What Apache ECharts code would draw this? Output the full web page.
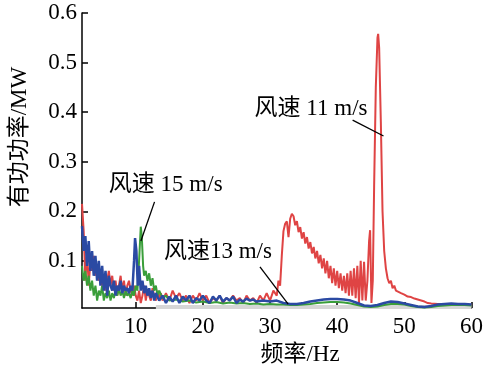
<!DOCTYPE html>
<html><head><meta charset="utf-8">
<script src="https://cdn.jsdelivr.net/npm/echarts@6/dist/echarts.min.js"></script>
<style>html,body{margin:0;padding:0;background:#fff}#c{width:486px;height:371px}</style>
</head><body><div id="c"></div>
<script>
// ---- data ----
const xTicks = [10, 20, 30, 40, 50, 60];
const yTicks = [0.1, 0.2, 0.3, 0.4, 0.5, 0.6];

// 风速 11 m/s (red)
const redF = [2.0,2.25,2.5,2.75,3.0,3.25,3.5,3.75,4.0,4.25,4.5,4.75,5.0,5.25,5.5,5.75,6.0,6.25,6.5,6.75,7.0,7.25,7.5,7.75,8.0,8.25,8.5,8.75,9.0,9.25,9.5,9.75,10.0,10.25,10.5,10.75,11.0,11.25,11.5,11.75,12.0,12.25,12.5,12.75,13.0,13.25,13.5,13.75,14,14.5,15,15.5,16,16.5,17,17.5,18,18.5,19,19.5,20,20.5,21,21.5,22,22.5,23,23.5,24,24.5,25,25.5,26,26.5,27,27.5,28,28.5,29,29.5,30,30.5,31,31.25,31.5,31.75,32,32.25,32.5,32.75,33,33.25,33.5,33.75,34,34.25,34.5,34.75,35,35.25,35.5,35.75,36,36.25,36.5,36.75,37,37.25,37.5,37.75,38,38.25,38.5,38.75,39,39.25,39.5,39.75,40,40.25,40.5,40.75,41,41.25,41.5,41.75,42,42.25,42.5,42.75,43,43.25,43.5,43.75,44,44.25,44.5,44.75,44.9,45.1,45.3,45.5,45.75,46,46.1,46.25,46.5,46.75,47,47.25,47.5,47.75,48,48.25,48.5,48.75,49,49.5,50,50.5,51,51.5,52,52.5,53,53.5,54,55,56,57,58,59,60];
const redV = [0.215,0.16,0.06,0.12,0.05,0.10,0.08,0.11,0.07,0.09,0.06,0.08,0.05,0.07,0.04,0.06,0.08,0.05,0.07,0.04,0.06,0.03,0.05,0.07,0.04,0.06,0.03,0.05,0.06,0.04,0.03,0.05,0.03,0.02,0.04,0.015,0.03,0.05,0.02,0.04,0.03,0.02,0.045,0.03,0.02,0.04,0.025,0.035,0.02,0.035,0.02,0.04,0.025,0.035,0.02,0.03,0.015,0.03,0.02,0.035,0.02,0.03,0.015,0.025,0.02,0.03,0.015,0.025,0.02,0.03,0.02,0.025,0.015,0.03,0.02,0.025,0.015,0.03,0.02,0.035,0.02,0.04,0.03,0.06,0.05,0.11,0.16,0.175,0.18,0.148,0.185,0.195,0.19,0.172,0.18,0.158,0.168,0.145,0.158,0.135,0.148,0.125,0.138,0.115,0.128,0.105,0.12,0.095,0.112,0.085,0.105,0.075,0.1,0.065,0.09,0.055,0.085,0.05,0.08,0.045,0.075,0.04,0.07,0.035,0.075,0.03,0.08,0.03,0.085,0.025,0.09,0.015,0.1,0.02,0.098,0.02,0.06,0.14,0.162,0.015,0.06,0.25,0.45,0.55,0.558,0.53,0.38,0.2,0.12,0.085,0.065,0.055,0.06,0.045,0.05,0.04,0.042,0.035,0.032,0.028,0.027,0.024,0.022,0.02,0.018,0.015,0.014,0.013,0.012,0.012,0.011,0.012,0.011];

// 风速 13 m/s (blue)
const blueF = [2.0,2.25,2.5,2.75,3.0,3.25,3.5,3.75,4.0,4.25,4.5,4.75,5.0,5.25,5.5,5.75,6.0,6.25,6.5,6.75,7.0,7.25,7.5,7.75,8.0,8.25,8.5,8.75,9.0,9.25,9.5,9.75,9.9,10.1,10.3,10.5,10.75,11.0,11.25,11.5,11.75,12.0,12.25,12.5,12.75,13,13.5,14,14.5,15,15.5,16,16.5,17,17.5,18,18.5,19,19.5,20,20.5,21,21.5,22,22.5,23,23.5,24,24.5,25,25.5,26,26.5,27,27.5,28,29,30,31,32,33,34,35,36,37,38,39,40,41,42,43,44,45,46,47,48,49,50,51,52,53,54,55,56,57,58,59,60];
const blueV = [0.17,0.12,0.15,0.09,0.14,0.08,0.12,0.07,0.11,0.06,0.10,0.05,0.09,0.04,0.08,0.03,0.07,0.05,0.04,0.06,0.03,0.05,0.04,0.06,0.035,0.05,0.04,0.045,0.035,0.05,0.04,0.1,0.146,0.12,0.05,0.09,0.04,0.06,0.035,0.05,0.03,0.045,0.025,0.04,0.02,0.035,0.02,0.03,0.015,0.028,0.018,0.03,0.015,0.028,0.02,0.03,0.015,0.025,0.02,0.03,0.02,0.015,0.028,0.02,0.03,0.018,0.025,0.02,0.028,0.015,0.022,0.018,0.024,0.02,0.022,0.018,0.02,0.018,0.02,0.015,0.013,0.013,0.015,0.018,0.02,0.022,0.023,0.023,0.022,0.02,0.015,0.01,0.009,0.011,0.015,0.018,0.017,0.014,0.011,0.008,0.007,0.009,0.012,0.013,0.014,0.013,0.013,0.012];

// 风速 15 m/s (green)
const greenF = [2.0,2.25,2.5,2.75,3.0,3.25,3.5,3.75,4.0,4.25,4.5,4.75,5.0,5.25,5.5,5.75,6.0,6.25,6.5,6.75,7.0,7.25,7.5,7.75,8.0,8.25,8.5,8.75,9.0,9.25,9.5,9.75,10.0,10.25,10.5,10.75,10.9,11.1,11.25,11.5,11.75,12.0,12.25,12.5,12.75,13,13.25,13.5,14,14.5,15,16,17,18,19,20,21,22,23,24,25,26,27,28,29,30,31,32,33,34,35,36,37,38,39,40,41,42,43,44,45,46,47,48,49,50,51,52,53,54,55,56,57,58,59,60];
const greenV = [0.09,0.06,0.08,0.05,0.07,0.04,0.06,0.03,0.05,0.02,0.04,0.03,0.05,0.02,0.035,0.025,0.04,0.02,0.035,0.025,0.04,0.03,0.045,0.03,0.04,0.025,0.04,0.03,0.035,0.025,0.04,0.03,0.05,0.04,0.1,0.169,0.15,0.09,0.07,0.08,0.06,0.075,0.05,0.065,0.04,0.05,0.03,0.04,0.025,0.03,0.02,0.022,0.018,0.02,0.016,0.018,0.015,0.017,0.014,0.016,0.014,0.015,0.013,0.014,0.012,0.013,0.012,0.012,0.011,0.011,0.012,0.013,0.015,0.016,0.017,0.017,0.016,0.014,0.011,0.008,0.007,0.008,0.011,0.013,0.013,0.012,0.009,0.007,0.006,0.007,0.009,0.01,0.011,0.011,0.011,0.01];

// light gray base band
const grayF = [13, 60];
const grayV = [0.007, 0.007];

// ---- chart ----
const zip = (f, v) => f.map((x, i) => [x, v[i]]);
const FONT = "'Liberation Serif','Times New Roman','Noto Sans CJK SC',serif";
const FS = 23;
const chart = echarts.init(document.getElementById('c'), null, {renderer: 'canvas'});
const line = (name, f, v, color, w) => ({
  name, type: 'line', data: zip(f, v), showSymbol: false, symbol: 'none',
  lineStyle: {color, width: w}, smooth: false, animation: false, z: 2
});
chart.setOption({
  animation: false,
  grid: {left: 82, right: 11, top: 13, bottom: 63},
  xAxis: {
    type: 'value', min: 2, max: 60,
    axisLine: {show: true, lineStyle: {color: '#000', width: 1.5}},
    axisTick: {show: true, inside: true, length: 6, customValues: xTicks, lineStyle: {color: '#000', width: 1.5}},
    axisLabel: {customValues: xTicks, color: '#000', fontFamily: FONT, fontSize: FS, margin: 7},
    splitLine: {show: false}
  },
  yAxis: {
    type: 'value', min: 0.005, max: 0.6,
    axisLine: {show: true, lineStyle: {color: '#000', width: 1.5}},
    axisTick: {show: true, inside: true, length: 6, customValues: yTicks, lineStyle: {color: '#000', width: 1.5}},
    axisLabel: {customValues: yTicks, color: '#000', fontFamily: FONT, fontSize: FS, margin: 5,
      formatter: v => (Math.round(v * 10) / 10).toFixed(1)},
    splitLine: {show: false}
  },
  series: [
    line('base', grayF, grayV, '#d6d6d6', 4),
    line('风速 11 m/s', redF, redV, '#df4444', 2),
    line('风速 15 m/s', greenF, greenV, '#3a9e3a', 2),
    line('风速 13 m/s', blueF, blueV, '#2b4aa3', 2.5)
  ]
});

// annotations in data coordinates
const notes = [
  {text: '风速 11 m/s', at: [27.7, 0.406], from: [42.3, 0.384], to: [46.9, 0.352]},
  {text: '风速 15 m/s', at: [6.0, 0.253], from: [12.8, 0.219], to: [10.77, 0.14]},
  {text: '风速13 m/s', at: [14.2, 0.118], from: [28.5, 0.088], to: [32.7, 0.013]}
];
const px = p => chart.convertToPixel({gridIndex: 0}, p);
const g = [];
notes.forEach(n => {
  const a = px(n.at), b = px(n.from), c = px(n.to);
  g.push({type: 'text', x: a[0], y: a[1], z: 10,
    style: {text: n.text, font: FS + 'px ' + FONT, fill: '#000', verticalAlign: 'middle'}});
  g.push({type: 'line', z: 10, shape: {x1: b[0], y1: b[1], x2: c[0], y2: c[1]},
    style: {stroke: '#000', lineWidth: 1.3}});
});
g.push({type: 'text', x: 20, y: 137, rotation: Math.PI / 2, z: 10,
  style: {text: '有功功率/MW', font: FS + 'px ' + FONT, fill: '#000', align: 'center', verticalAlign: 'middle'}});
g.push({type: 'text', x: 300, y: 355, z: 10,
  style: {text: '频率/Hz', font: FS + 'px ' + FONT, fill: '#000', align: 'center', verticalAlign: 'middle'}});
chart.setOption({graphic: g});
</script></body></html>
